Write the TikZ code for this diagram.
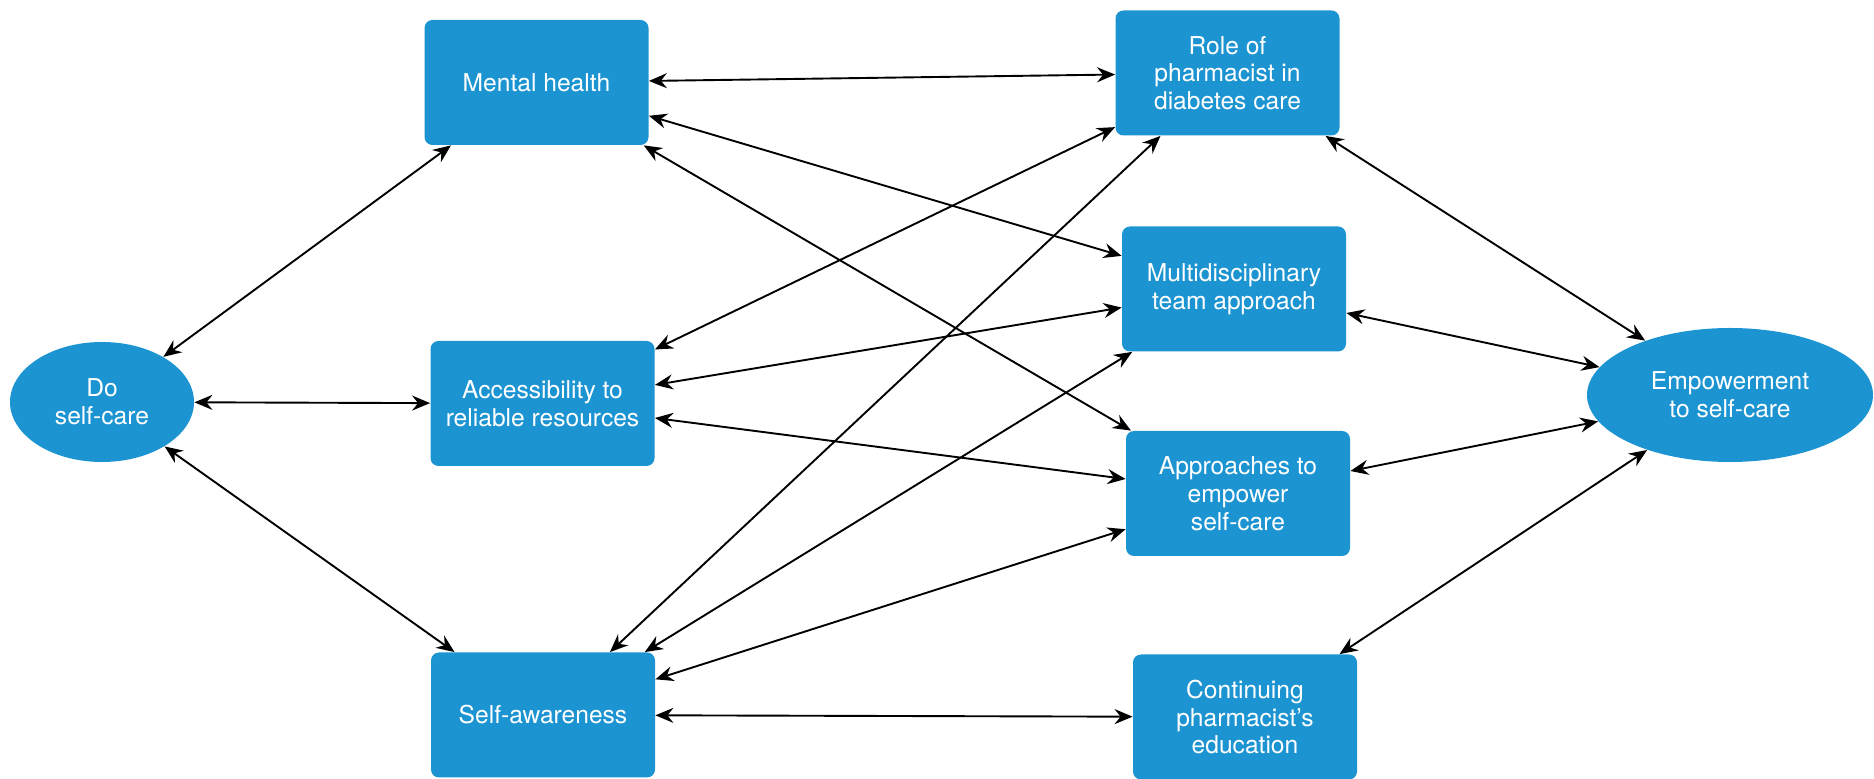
\documentclass[tikz,border=0pt]{standalone}
\usepackage{fontspec}
\setmainfont{TeX Gyre Heros}
\usetikzlibrary{arrows.meta,shapes.geometric}
\definecolor{boxblue}{HTML}{1D94D2}
\begin{document}
\begin{tikzpicture}[x=0.5pt,y=-0.5pt,
  label font/.style={font=\fontsize{12.3}{13.9}\selectfont},
  topic/.style={rectangle, rounded corners=4pt, fill=boxblue, text=white,
    minimum width=112pt, minimum height=62.5pt, inner sep=0pt, align=center, label font},
  goal/.style={ellipse, fill=boxblue, text=white, inner sep=0pt, align=center, label font},
  tip/.style={Stealth[length=9pt,width=7.5pt,inset=3pt]},
  link/.style={draw=black, line width=0.95pt, {Stealth[length=9pt,width=7.5pt,inset=3pt]}-{Stealth[length=9pt,width=7.5pt,inset=3pt]}}]
  \useasboundingbox (0,0) rectangle (1874,779);

  % outcome ellipses
  \node[goal, minimum width=92pt, minimum height=60pt] (do) at (102,402) {Do\\self-care};
  \node[goal, minimum width=143pt, minimum height=67pt] (emp) at (1730,395) {Empowerment\\to self-care};

  % left column
  \node[topic] (mh)  at (536.5,82.5)  {Mental health};
  \node[topic] (acc) at (542.5,403.5) {Accessibility to\\reliable resources};
  \node[topic] (sa)  at (543,715)     {Self-awareness};

  % right column
  \node[topic] (role)  at (1227.5,73)   {Role of\\pharmacist in\\diabetes care};
  \node[topic] (multi) at (1234,289)    {Multidisciplinary\\team approach};
  \node[topic] (app)   at (1238,493.5)  {Approaches to\\empower\\self-care};
  \node[topic] (cont)  at (1245,717)    {Continuing\\pharmacist's\\education};

  % links from the self-care ellipse
  \draw[link] (do) -- (mh);
  \draw[link] (do) -- (acc);
  \draw[link] (do) -- (sa);

  % links between the two columns
  \draw[link] (mh) -- (role);
  \draw[link] (mh) -- (multi);
  \draw[link] (mh) -- (app);
  \draw[link] (acc) -- (role);
  \draw[link] (acc) -- (multi);
  \draw[link] (acc) -- (app);
  \draw[link] (sa) -- (role);
  \draw[link] (sa) -- (multi);
  \draw[link] (sa) -- (app);
  \draw[link] (sa) -- (cont);

  % links to the empowerment ellipse
  \draw[link] (role) -- (emp);
  \draw[link] (multi) -- (emp);
  \draw[link] (app) -- (emp);
  \draw[link] (cont) -- (emp);
\end{tikzpicture}
\end{document}
